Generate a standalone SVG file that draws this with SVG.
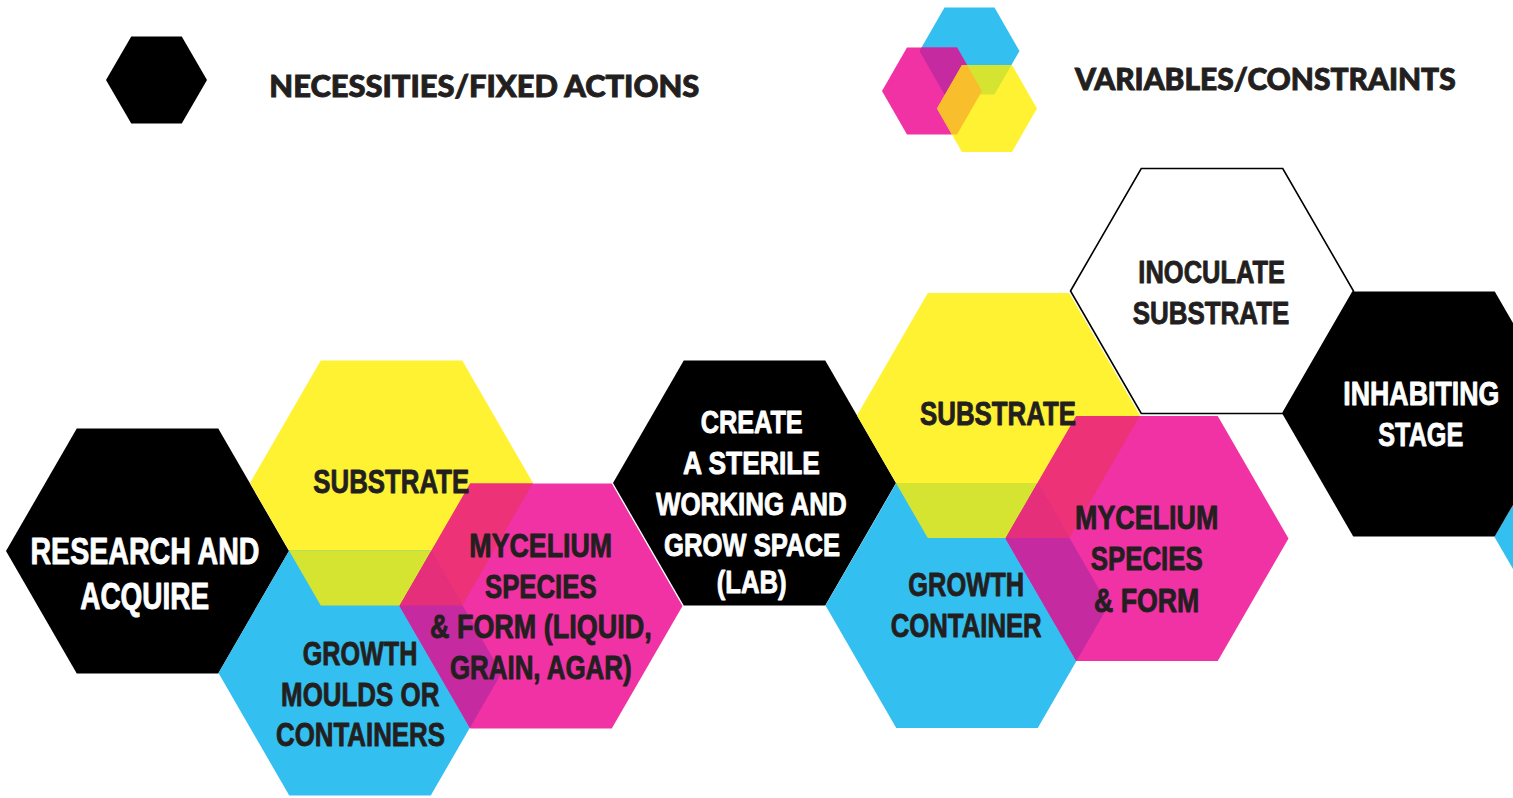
<svg xmlns="http://www.w3.org/2000/svg" width="1513" height="798" viewBox="0 0 1513 798">
  <style>
    .black { fill: #000000; }
    .yellow { fill: #FFF233; }
    .blue { fill: #33BFF0; }
    .magenta { fill: #F032A5; }
    .outline { fill: #FFFFFF; stroke: #000000; stroke-width: 1.6; }
    .yb { fill: #D5E431; }
    .my { fill: #EE3278; }
    .mb { fill: #C52AA0; }
    .myb { fill: #E62F7A; }
    .orange { fill: #F8BE2C; }
    .lbl { font-family: "Liberation Sans", Arial, sans-serif; font-weight: bold; text-anchor: middle; stroke-width: 0.9; stroke-linejoin: round; }
    .dark { fill: #231F20; stroke: #231F20; }
    .light { fill: #FFFFFF; stroke: #FFFFFF; }
    .key { font-family: Lato, "Open Sans", "Liberation Sans", sans-serif; font-weight: 900; fill: #231F20; stroke: #231F20; stroke-width: 0.9; text-anchor: middle; font-size: 30px; }
  </style>
  <defs>
    <!-- legend tiles -->
    <polygon id="kb" points="919.5,51 944.5,7.5 994.5,7.5 1019.5,51 994.5,94.5 944.5,94.5"/>
    <polygon id="km" points="882,91 907,47.5 957,47.5 982,91 957,134.5 907,134.5"/>
    <polygon id="ky" points="937,108.5 962,65 1012,65 1037,108.5 1012,152 962,152"/>
    <!-- first cluster -->
    <polygon id="y1" points="250,483 320.75,360.5 462.25,360.5 533,483 462.25,605.5 320.75,605.5"/>
    <polygon id="b1" points="218.5,673 289.25,550.5 430.75,550.5 501.5,673 430.75,795.5 289.25,795.5"/>
    <polygon id="m1" points="399.5,606 470.25,483.5 611.75,483.5 682.5,606 611.75,728.5 470.25,728.5"/>
    <!-- second cluster -->
    <polygon id="y2" points="857,415.5 927.75,293 1069.25,293 1140,415.5 1069.25,538 927.75,538"/>
    <polygon id="b2" points="825.5,605.5 896.25,483 1037.75,483 1108.5,605.5 1037.75,728 896.25,728"/>
    <polygon id="m2" points="1005.5,538.5 1076.25,416 1217.75,416 1288.5,538.5 1217.75,661 1076.25,661"/>
    <clipPath id="clip-kb"><use href="#kb"/></clipPath>
    <clipPath id="clip-km"><use href="#km"/></clipPath>
    <clipPath id="clip-y1"><use href="#y1"/></clipPath>
    <clipPath id="clip-b1"><use href="#b1"/></clipPath>
    <clipPath id="clip-y2"><use href="#y2"/></clipPath>
    <clipPath id="clip-b2"><use href="#b2"/></clipPath>
  </defs>

  <rect width="1513" height="798" fill="#FFFFFF"/>

  <!-- key -->
  <g id="key-fixed">
    <polygon class="black" points="106,80 131.25,36.5 181.75,36.5 207,80 181.75,123.5 131.25,123.5"/>
    <text class="key" x="484.3" y="96.5" textLength="430" lengthAdjust="spacingAndGlyphs">NECESSITIES/FIXED ACTIONS</text>
  </g>
  <g id="key-variables">
    <use href="#kb" class="blue"/>
    <use href="#km" class="magenta"/>
    <use href="#ky" class="yellow"/>
    <g clip-path="url(#clip-kb)"><use href="#km" class="mb"/><use href="#ky" class="yb"/></g>
    <g clip-path="url(#clip-km)"><use href="#ky" class="orange"/></g>
    <text class="key" x="1265.3" y="90" textLength="380.7" lengthAdjust="spacingAndGlyphs">VARIABLES/CONSTRAINTS</text>
  </g>

  <!-- process tiles -->
  <g id="tiles">
    <g id="research-and-acquire">
      <polygon class="black" points="6,551 76.75,428.5 218.25,428.5 289,551 218.25,673.5 76.75,673.5"/>
    </g>
    <g id="substrate-1"><use href="#y1" class="yellow"/></g>
    <g id="growth-moulds"><use href="#b1" class="blue"/></g>
    <g id="mycelium-1"><use href="#m1" class="magenta"/></g>
    <g id="sterile-lab">
      <polygon class="black" points="613,483 683.75,360.5 825.25,360.5 896,483 825.25,605.5 683.75,605.5"/>
    </g>
    <g id="substrate-2"><use href="#y2" class="yellow"/></g>
    <g id="growth-container"><use href="#b2" class="blue"/></g>
    <g id="mycelium-2"><use href="#m2" class="magenta"/></g>
    <g id="inoculate-substrate">
      <polygon class="outline" points="1070.5,291 1141.25,168.5 1282.75,168.5 1353.5,291 1282.75,413.5 1141.25,413.5"/>
    </g>
    <g id="next-variable">
      <polygon class="blue" points="1494.5,537 1565.25,414.5 1706.75,414.5 1777.5,537 1706.75,659.5 1565.25,659.5"/>
    </g>
    <g id="inhabiting-stage">
      <polygon class="black" points="1282.5,414 1353.25,291.5 1494.75,291.5 1565.5,414 1494.75,536.5 1353.25,536.5"/>
    </g>
  </g>

  <!-- where the variable tiles overlap -->
  <g id="overlaps">
    <g clip-path="url(#clip-y1)"><use href="#b1" class="yb"/><use href="#m1" class="my"/></g>
    <g clip-path="url(#clip-b1)"><use href="#m1" class="mb"/></g>
    <g clip-path="url(#clip-y1)"><g clip-path="url(#clip-b1)"><use href="#m1" class="myb"/></g></g>
    <g clip-path="url(#clip-y2)"><use href="#b2" class="yb"/><use href="#m2" class="my"/></g>
    <g clip-path="url(#clip-b2)"><use href="#m2" class="mb"/></g>
    <g clip-path="url(#clip-y2)"><g clip-path="url(#clip-b2)"><use href="#m2" class="myb"/></g></g>
  </g>

  <!-- labels -->
  <g id="labels">
    <g id="label-research" class="lbl light" font-size="37">
      <text x="145" y="564" textLength="229" lengthAdjust="spacingAndGlyphs">RESEARCH AND</text>
      <text x="144.7" y="609" textLength="129" lengthAdjust="spacingAndGlyphs">ACQUIRE</text>
    </g>
    <g id="label-substrate-1" class="lbl dark" font-size="34">
      <text x="391.3" y="493.3" textLength="156" lengthAdjust="spacingAndGlyphs">SUBSTRATE</text>
    </g>
    <g id="label-mycelium-1" class="lbl dark" font-size="34">
      <text x="540.7" y="557" textLength="142.7" lengthAdjust="spacingAndGlyphs">MYCELIUM</text>
      <text x="540.8" y="598.3" textLength="111.7" lengthAdjust="spacingAndGlyphs">SPECIES</text>
      <text x="540.8" y="638.3" textLength="221.7" lengthAdjust="spacingAndGlyphs">&amp; FORM (LIQUID,</text>
      <text x="540.8" y="679.3" textLength="181.7" lengthAdjust="spacingAndGlyphs">GRAIN, AGAR)</text>
    </g>
    <g id="label-growth-moulds" class="lbl dark" font-size="34">
      <text x="360" y="665" textLength="114.7" lengthAdjust="spacingAndGlyphs">GROWTH</text>
      <text x="360.2" y="706" textLength="158.3" lengthAdjust="spacingAndGlyphs">MOULDS OR</text>
      <text x="360.5" y="746" textLength="169" lengthAdjust="spacingAndGlyphs">CONTAINERS</text>
    </g>
    <g id="label-sterile-lab" class="lbl light" font-size="31.5">
      <text x="751.7" y="433.3" textLength="102" lengthAdjust="spacingAndGlyphs">CREATE</text>
      <text x="751.5" y="474" textLength="137" lengthAdjust="spacingAndGlyphs">A STERILE</text>
      <text x="751.3" y="515" textLength="190.7" lengthAdjust="spacingAndGlyphs">WORKING AND</text>
      <text x="752" y="555.5" textLength="176" lengthAdjust="spacingAndGlyphs">GROW SPACE</text>
      <text x="751.7" y="593" textLength="70" lengthAdjust="spacingAndGlyphs">(LAB)</text>
    </g>
    <g id="label-substrate-2" class="lbl dark" font-size="33">
      <text x="998" y="425" textLength="156" lengthAdjust="spacingAndGlyphs">SUBSTRATE</text>
    </g>
    <g id="label-growth-container" class="lbl dark" font-size="34">
      <text x="966.2" y="596" textLength="115.7" lengthAdjust="spacingAndGlyphs">GROWTH</text>
      <text x="966.2" y="637.3" textLength="151" lengthAdjust="spacingAndGlyphs">CONTAINER</text>
    </g>
    <g id="label-mycelium-2" class="lbl dark" font-size="34">
      <text x="1146.7" y="529.3" textLength="143.3" lengthAdjust="spacingAndGlyphs">MYCELIUM</text>
      <text x="1146.7" y="570" textLength="112" lengthAdjust="spacingAndGlyphs">SPECIES</text>
      <text x="1146.7" y="611.7" textLength="105.3" lengthAdjust="spacingAndGlyphs">&amp; FORM</text>
    </g>
    <g id="label-inoculate" class="lbl dark" font-size="32">
      <text x="1211.7" y="282.7" textLength="146.7" lengthAdjust="spacingAndGlyphs">INOCULATE</text>
      <text x="1211" y="324.3" textLength="156.7" lengthAdjust="spacingAndGlyphs">SUBSTRATE</text>
    </g>
    <g id="label-inhabiting" class="lbl light" font-size="34">
      <text x="1421.3" y="405" textLength="156" lengthAdjust="spacingAndGlyphs">INHABITING</text>
      <text x="1420.8" y="445.7" textLength="85" lengthAdjust="spacingAndGlyphs">STAGE</text>
    </g>
  </g>
</svg>
